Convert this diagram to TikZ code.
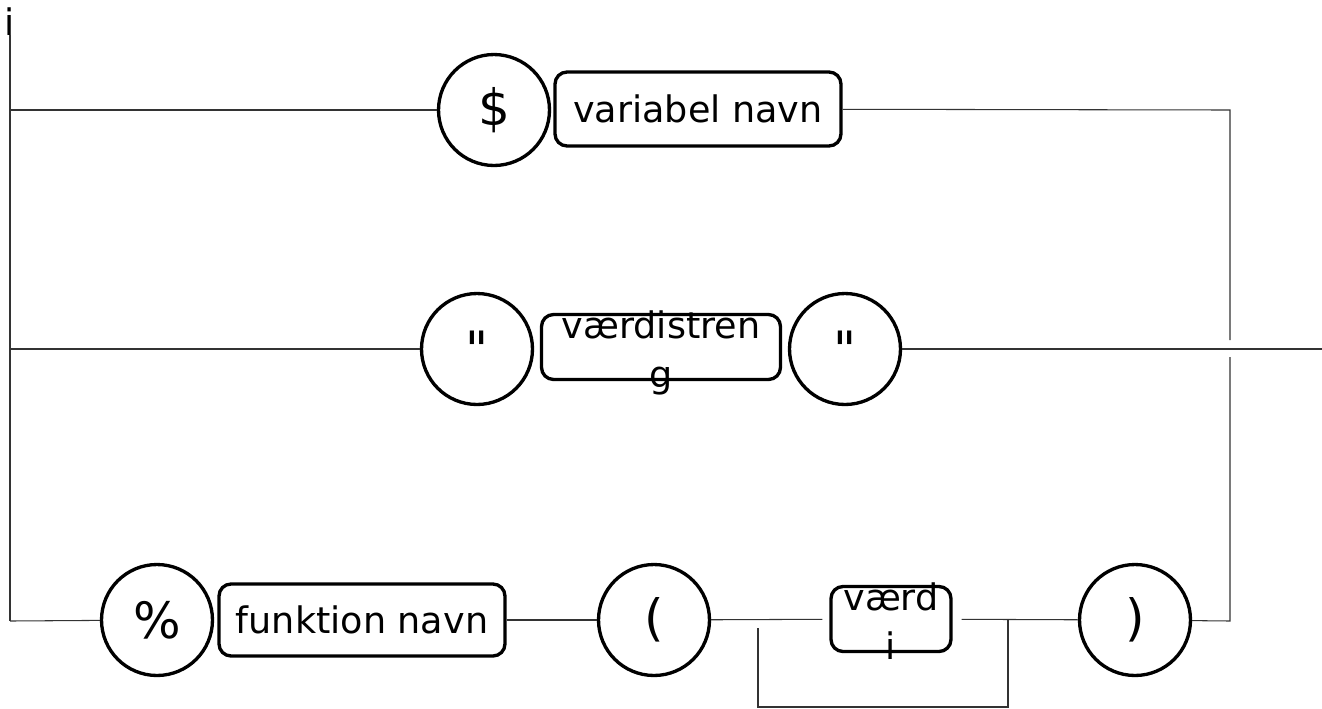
\documentclass[tikz,border=0pt]{standalone}
\usepackage{fontspec}
\setmainfont{DejaVu Sans}
\newfontfamily\quotefont{DejaVu Sans}
\usetikzlibrary{calc}

\begin{document}
\begin{tikzpicture}[x=0.02cm, y=-0.02cm,
        every node/.style={font=\fontsize{20.8}{28}\selectfont},
        token/.style={circle,draw,line width=1.9pt,minimum size=2.22cm,inner sep=0pt,font=\fontsize{28.5}{34}\selectfont},
        term/.style={rectangle,draw,rounded corners=0.24cm,line width=1.9pt,inner sep=0pt,align=center},
        wire/.style={line width=0.6pt,color=black!80}]
            \useasboundingbox (0, 0) rectangle (1322, 708);

            \node[anchor=base] (start) at (10, 35) {i};

            \node[token] (dollar) at (494, 110) {\$};
            \node[term,minimum width=5.72cm,minimum height=1.48cm] (varnavn) at (698, 109) {variabel navn};

            \node[token] (quoteA) at (477, 349) {\quotefont "};
            \node[term,minimum width=4.78cm,minimum height=1.3cm] (vstreng) at (661, 347) {\smash{\raisebox{-0.3cm}{\begin{tabular}{@{}c@{}}værdistren\\g\end{tabular}}}};
            \node[token] (quoteB) at (845, 349) {\quotefont "};

            \node[token] (procent) at (157, 620) {\%};
            \node[term,minimum width=5.72cm,minimum height=1.44cm] (fnavn) at (362, 620) {funktion navn};
            \node[token] (lpar) at (654, 620) {(};
            \node[term,minimum width=2.4cm,minimum height=1.3cm] (vaerdi) at (891, 619) {\smash{\raisebox{-0.3cm}{\begin{tabular}{@{}c@{}}værd\\i\end{tabular}}}};
            \node[token] (rpar) at (1135, 620) {)};

            \coordinate (west1) at (10, 110);
            \coordinate (west2) at (10, 349);
            \coordinate (west3) at (10, 621);
            \coordinate (east1) at (1230, 110);
            \coordinate (east3) at (1230, 621);
            \coordinate (gapA) at (1230, 340);
            \coordinate (gapB) at (1230, 357);
            \coordinate (exit) at (1322, 349);

            % loop back under the value box
            \coordinate (loopA) at (758, 628);
            \coordinate (loopB) at (758, 707);
            \coordinate (loopC) at (1008, 707);
            \coordinate (loopD) at (1008, 620);

            \draw[wire] (start.base) -- (west3);
            \draw[wire] (west1) -- (dollar);
            \draw[wire] (varnavn) -- (east1) -- (gapA);
            \draw[wire] (west2) -- (quoteA);
            \draw[wire] (quoteB) -- (exit);
            \draw[wire] (west3) -- (procent);
            \draw[wire] (fnavn) -- (lpar);
            \draw[wire, shorten >=0.14cm] (lpar) -- (vaerdi);
            \draw[wire, shorten <=0.18cm] (vaerdi) -- (rpar);
            \draw[wire] (rpar) -- (east3) -- (gapB);
            \draw[wire] (loopA) -- (loopB) -- (loopC) -- (loopD);
        \end{tikzpicture}
\end{document}
